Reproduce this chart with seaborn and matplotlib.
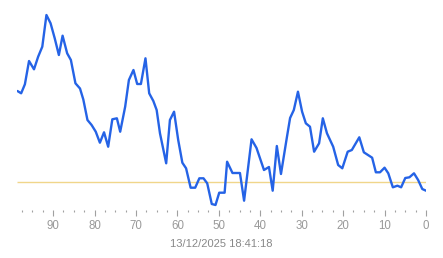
import matplotlib
matplotlib.use("Agg")
import matplotlib.pyplot as plt
from matplotlib.ticker import MultipleLocator
import seaborn as sns
import pandas as pd

# minutes ago (x) and value (y)
minutes_ago = [98.6, 97.7, 96.8, 95.8, 94.6, 93.6, 92.6, 91.6, 90.6, 89.6,
               88.6, 87.7, 86.6, 85.7, 84.6, 83.5, 82.7, 81.7, 80.7, 79.7,
               78.7, 77.7, 76.7, 75.7, 74.6, 73.8, 72.6, 71.7, 70.6, 69.7,
               68.8, 67.7, 66.8, 65.8, 65.0, 64.2, 62.7, 61.8, 60.8, 59.8,
               58.8, 57.9, 56.8, 55.7, 54.7, 53.7, 52.8, 51.7, 50.8, 49.9,
               48.6, 48.0, 46.7, 44.9, 43.9, 42.1, 40.9, 39.1, 37.9, 37.0,
               36.0, 35.0, 33.6, 32.8, 31.9, 30.9, 29.9, 29.0, 28.0, 27.0,
               25.8, 24.9, 23.9, 22.4, 21.2, 20.2, 18.9, 17.9, 16.1, 15.0,
               13.0, 12.1, 11.1, 10.0, 9.1, 8.0, 6.9, 6.0, 5.0, 4.0,
               2.9, 1.9, 0.9, 0.0]
values = [9.1, 8.87, 9.77, 12.1, 11.27, 12.53, 13.53, 16.7, 15.87, 14.37,
          12.7, 14.63, 12.87, 12.2, 9.87, 9.35, 8.25, 6.2, 5.7, 5.03,
          3.93, 4.97, 3.53, 6.27, 6.37, 5.03, 7.53, 10.2, 11.2, 9.8,
          9.8, 12.37, 8.87, 8.1, 7.2, 4.87, 1.87, 6.2, 7.03, 4.2,
          1.93, 1.37, -0.57, -0.57, 0.37, 0.37, -0.13, -2.2, -2.3, -1.07,
          -1.07, 2.03, 0.9, 0.9, -1.87, 4.27, 3.4, 1.2, 1.5, -0.87,
          3.6, 0.8, 4.4, 6.4, 7.2, 9.03, 7.03, 5.87, 5.53, 3.03,
          3.87, 6.37, 4.87, 3.53, 1.7, 1.37, 3.03, 3.2, 4.47, 2.97,
          2.43, 0.97, 0.97, 1.43, 0.87, -0.53, -0.37, -0.53, 0.4, 0.47,
          0.87, 0.2, -0.7, -0.87]
reference_level = 0.0
major_ticks = [90, 80, 70, 60, 50, 40, 30, 20, 10, 0]
tick_labels = [str(t) for t in major_ticks]
timestamp = "13/12/2025 18:41:18"

df = pd.DataFrame({"minutes_ago": minutes_ago, "value": values})

sns.set_style("white")
plt.rcParams["font.family"] = ["Liberation Sans", "DejaVu Sans"]

fig = plt.figure(figsize=(4.43, 2.58), dpi=100)
ax = fig.add_axes([16.6 / 443, 1 - 210 / 258, (426 - 16.6) / 443, (210 - 5) / 258])

ax.hlines(reference_level, max(minutes_ago) + 0.2, 0, color="#f0d68a", lw=1.0, zorder=1)
sns.lineplot(data=df, x="minutes_ago", y="value", ax=ax, color="#2563e6",
             lw=1.7, zorder=3, estimator=None, sort=False)

ax.set_xlim(98.8, 0)
ax.set_ylim(-2.8, 17.7)
ax.set_xticks(major_ticks)
ax.set_xticklabels(tick_labels)
ax.xaxis.set_minor_locator(MultipleLocator(2.5))
ax.set_yticks([])
ax.tick_params(axis="x", which="major", length=4.5, width=0.8, color="#a0a0a0",
               labelcolor="#999999", labelsize=8.3, pad=2.5, bottom=True)
ax.tick_params(axis="x", which="minor", length=1.5, width=0.8, color="#a0a0a0",
               bottom=True)
ax.set_xlabel(timestamp, color="#888888", fontsize=8, labelpad=5)
ax.set_ylabel("")
for s in ax.spines.values():
    s.set_visible(False)

fig.savefig("out.png", dpi=100)
